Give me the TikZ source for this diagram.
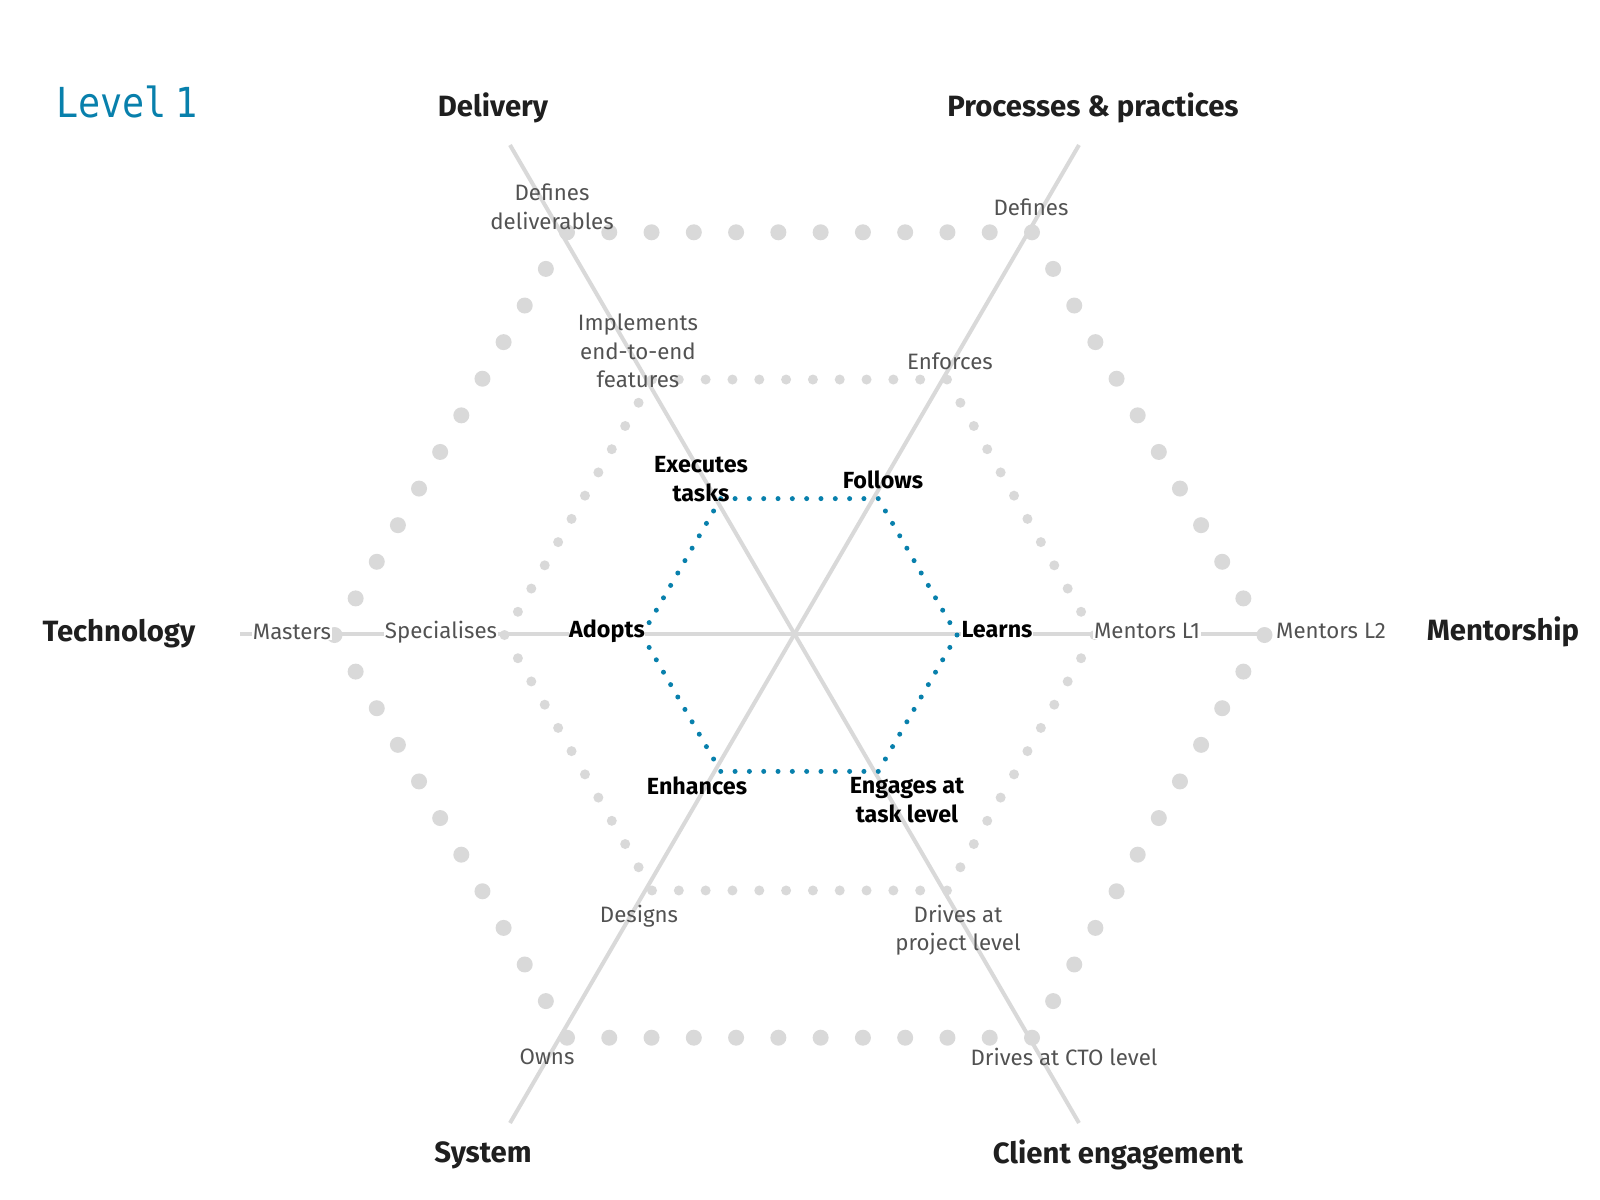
\documentclass[tikz,border=0pt]{standalone}
\usepackage{graphicx}
\usepackage{fontspec}
\setmainfont{Fira Sans}
\newfontfamily\levelfont{DejaVu Sans Mono}
\usetikzlibrary{calc}
\definecolor{levelblue}{RGB}{8,128,172}
\definecolor{axisgray}{RGB}{217,217,217}
\definecolor{textgray}{RGB}{82,82,82}

\begin{document}
\begin{tikzpicture}[
  x=0.75pt, y=-0.75pt,
  axis/.style={draw=axisgray, line width=3pt},
  ring/.style={line cap=round, line join=round},
  title/.style={font=\fontsize{22}{26}\selectfont\bfseries, text=black!88, inner sep=0pt},
  skill/.style={font=\fontsize{16.7}{21.4}\selectfont, text=textgray, align=center, inner sep=0pt},
  now/.style={font=\fontsize{17.5}{21.4}\selectfont\bfseries, text=black, align=center, inner sep=0pt},
  onaxis/.style={fill=white, inner sep=0.5pt}
]
\useasboundingbox (0,0) rectangle (1600,1200);

\coordinate (ctr) at (794.5,634);
\coordinate (hc) at (799.5,635);

% axis ends
\coordinate (delTop) at (510,145);
\coordinate (cliBot) at (1079,1123);
\coordinate (proTop) at (1079,145);
\coordinate (sysBot) at (510,1123);
\coordinate (tecEnd) at (240,634);
\coordinate (menEnd) at (1264,634);

\draw[axis] (delTop) -- (cliBot);
\draw[axis] (proTop) -- (sysBot);
\draw[axis] (tecEnd) -- (menEnd);

% level rings: outer, middle, current
\foreach \r/\dot/\col in {465/12/axisgray, 295/7.5/axisgray, 157.5/3.75/levelblue}{
  \pgfmathsetmacro{\gap}{\r*0.75/11}
  \draw[ring, draw=\col, line width=\dot pt, dash pattern=on 0pt off \gap pt]
    ($(hc)+(0:\r)$) \foreach \a in {60,120,...,300}{ -- ($(hc)+(\a:\r)$)} -- cycle;
}

\node[anchor=west, inner sep=0pt, text=levelblue, font=\levelfont\fontsize{31}{31}\selectfont] (level) at (56,102) {\scalebox{0.89}[1]{Level\kern0.22em1}};

\node[title] (delivery) at (493,108) {Delivery};
\node[title] (process) at (1093,108) {Processes \& practices};
\node[title] (tech) at (119,634) {Technology};
\node[title] (mentor) at (1503,632) {Mentorship};
\node[title] (system) at (483,1155) {System};
\node[title] (client) at (1118,1155) {Client engagement};

\node[skill] (delOut) at (552,207) {Defines\\deliverables};
\node[skill] (proOut) at (1031,207) {Defines};
\node[skill] (delMid) at (638,351) {Implements\\end-to-end\\features};
\node[skill] (proMid) at (950,361) {Enforces};
\node[skill, onaxis] (tecOut) at (292,632) {Masters};
\node[skill, onaxis] (tecMid) at (441,632) {Specialises};
\node[skill, onaxis] (menMid) at (1147,631) {Mentors L1};
\node[skill, onaxis] (menOut) at (1331,631) {Mentors L2};
\node[skill] (sysMid) at (639,916) {Designs};
\node[skill] (cliMid) at (958,930) {Drives at\\project level};
\node[skill] (sysOut) at (547,1057) {Owns};
\node[skill] (cliOut) at (1064,1057) {Drives at CTO level};

\node[now] (delIn) at (701,479) {Executes\\tasks};
\node[now] (proIn) at (883,480) {Follows};
\node[now, onaxis] (tecIn) at (607,631) {Adopts};
\node[now, onaxis] (menIn) at (997,630) {Learns};
\node[now] (sysIn) at (697,786) {Enhances};
\node[now] (cliIn) at (907,800) {Engages at\\task level};

\end{tikzpicture}
\end{document}
